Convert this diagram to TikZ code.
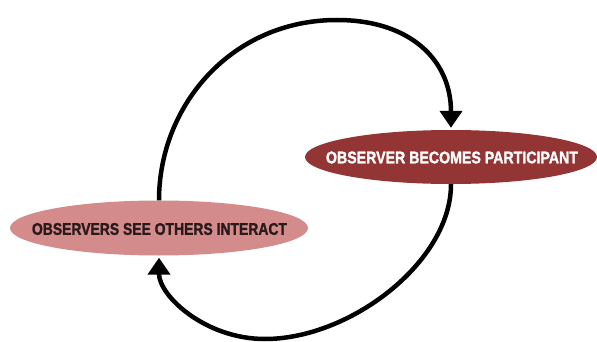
\documentclass[tikz,border=0pt]{standalone}
\usepackage{fontspec}
\setmainfont{Liberation Sans}
\newfontfamily\labelfont{Liberation Sans}[BoldFeatures={FakeBold=1.6}]
\usepackage{graphicx}
\usetikzlibrary{shapes.geometric,arrows.meta,calc}
\definecolor{darkred}{HTML}{943535}
\definecolor{pinkred}{HTML}{D38B8B}
\definecolor{darktext}{HTML}{2A1A1A}
\begin{document}
\begin{tikzpicture}[x=1pt,y=-1pt,
  blob/.style={ellipse, inner sep=0pt, draw=none},
  flow/.style={line width=4.5pt, -{Triangle[width=22pt,length=17pt]}}]
\useasboundingbox (0,0) rectangle (597,342);
\node[blob, fill=darkred, minimum width=292pt, minimum height=54pt] (part) at (451,157) {};
\node[text=white] at (452,157.5) {\resizebox{252pt}{11.8pt}{\labelfont\bfseries OBSERVER BECOMES PARTICIPANT}};
\node[blob, fill=pinkred, minimum width=298pt, minimum height=55pt] (obs) at (159,228) {};
\node[text=darktext] at (159.5,229) {\resizebox{255pt}{11.8pt}{\labelfont\bfseries OBSERVERS SEE OTHERS INTERACT}};
\coordinate (top) at (337,20);
\coordinate (bot) at (265,339);
\draw[flow] (obs.north) .. controls (159,105) and (232,20) .. (top)
  .. controls (410,20) and ($(part.north)+(0,-70)$) .. ([yshift=2pt]part.north);
\draw[flow] (part.south) .. controls (451,262) and (350,339) .. (bot)
  .. controls (205,339) and ($(obs.south)+(0,40)$) .. ([yshift=-2pt]obs.south);
\end{tikzpicture}
\end{document}
